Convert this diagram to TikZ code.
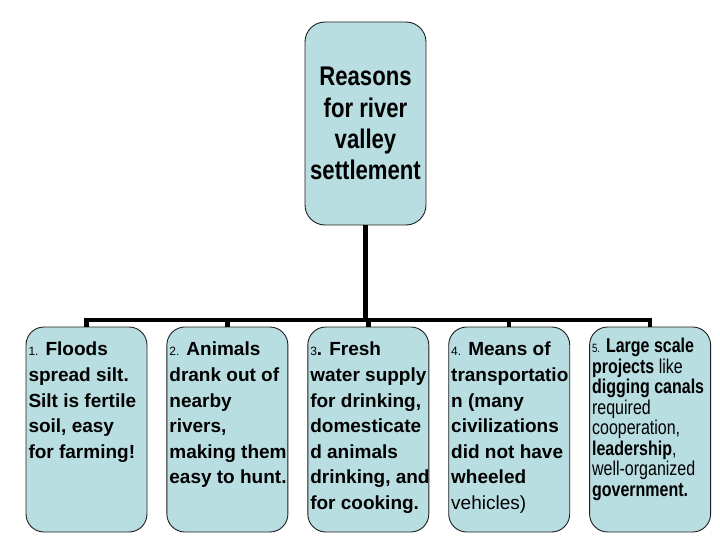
\documentclass[tikz,border=0pt]{standalone}
\usepackage{fontspec}
\setmainfont{Liberation Sans}
\newfontfamily\titlefont[FakeStretch=0.82]{Liberation Sans}
\newfontfamily\narrowfont[FakeStretch=0.8]{Liberation Sans}
\usepackage{xcolor}
\usepackage{tikz}
\usetikzlibrary{positioning}
\definecolor{boxblue}{RGB}{185,222,226}
\definecolor{boxline}{RGB}{30,30,30}
\newcommand{\reasontext}[2][\fontsize{19}{25.6}]{\parbox[t][183pt][t]{116pt}{#1\selectfont
  \begin{tabular}[t]{@{}l@{}}#2\end{tabular}}}
\newcommand{\num}[1]{{\fontsize{12}{12}\selectfont\mdseries #1}}
\begin{document}
\begin{tikzpicture}[
    x=1pt, y=-1pt,
    reason/.style={draw=boxline, line width=0.9pt, fill=boxblue,
                   rounded corners=18pt, inner xsep=2.5pt, inner ysep=11pt,
                   anchor=center},
    topic/.style={draw=boxline, line width=0.9pt, fill=boxblue,
                  rounded corners=20pt, minimum width=121pt,
                  minimum height=203pt, align=center,
                  font=\titlefont\bfseries\fontsize{27}{31.3}\selectfont},
    link/.style={line width=4.5pt},
    node distance=19pt
]
\useasboundingbox (0,0) rectangle (720,540);

\node[topic] (root) at (365.5,123.5) {Reasons\\for river\\valley\\settlement};

\node[reason] (r1) at (86.5,429.5) {\reasontext{\num{1.} \textbf{Floods}\\\textbf{spread silt.}\\\textbf{Silt is fertile}\\\textbf{soil, easy}\\\textbf{for farming!}}};
\node[reason, right=of r1] (r2) {\reasontext{\num{2.} \textbf{Animals}\\\textbf{drank out of}\\\textbf{nearby}\\\textbf{rivers,}\\\textbf{making them}\\\textbf{easy to hunt.}}};
\node[reason, right=of r2] (r3) {\reasontext{\num{3}\textbf{. Fresh}\\\textbf{water supply}\\\textbf{for drinking,}\\\textbf{domesticate}\\\textbf{d animals}\\\textbf{drinking, and}\\\textbf{for cooking.}}};
\node[reason, right=of r3] (r4) {\reasontext{\num{4.} \textbf{Means of}\\\textbf{transportatio}\\\textbf{n (many}\\\textbf{civilizations}\\\textbf{did not have}\\\textbf{wheeled}\\vehicles)}};
\node[reason, right=of r4] (r5) {\reasontext[\narrowfont\fontsize{20}{20.2}]{\num{5.} \textbf{Large scale}\\\textbf{projects} like\\\textbf{digging canals}\\required\\cooperation,\\\textbf{leadership},\\well-organized\\\textbf{government.}}};

\coordinate (bar) at (365.5,320);

\draw[link] (root.south) -- (root.south |- bar);
\draw[link] (r1.north) |- (bar) -| (r5.north);
\draw[link] (r2.north) -- (r2.north |- bar);
\draw[link] (r3.north) -- (r3.north |- bar);
\draw[link] (r4.north) -- (r4.north |- bar);
\end{tikzpicture}
\end{document}
